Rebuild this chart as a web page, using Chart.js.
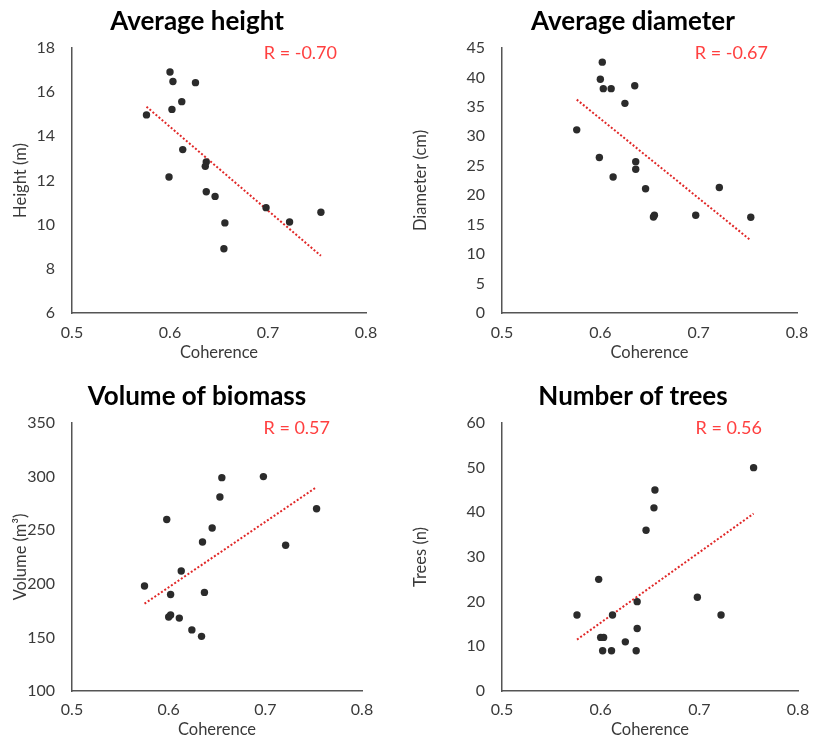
<!DOCTYPE html>
<html>
<head>
<meta charset="utf-8">
<script src="https://cdn.jsdelivr.net/npm/chart.js@4"></script>
<style>
  body { margin: 0; background: #fff; }
  #wrap { position: relative; width: 813px; height: 740px; overflow: hidden; }
  .panel { position: absolute; }
</style>
</head>
<body>
<div id="wrap">
  <div class="panel" style="left:0;top:0;width:400px;height:370px"><canvas id="c1"></canvas></div>
  <div class="panel" style="left:400px;top:0;width:413px;height:370px"><canvas id="c2"></canvas></div>
  <div class="panel" style="left:0;top:375px;width:400px;height:365px"><canvas id="c3"></canvas></div>
  <div class="panel" style="left:400px;top:375px;width:413px;height:365px"><canvas id="c4"></canvas></div>
</div>
<script>
// values
const heightX = [0.576, 0.600, 0.603, 0.626, 0.612, 0.602, 0.613, 0.637, 0.636, 0.599, 0.637, 0.646, 0.698, 0.722, 0.754, 0.656, 0.655];
const heightY = [14.97, 16.91, 16.48, 16.43, 15.57, 15.22, 13.40, 12.84, 12.64, 12.16, 11.49, 11.28, 10.77, 10.12, 10.56, 10.08, 8.91];

const diamX = [0.602, 0.600, 0.603, 0.611, 0.635, 0.625, 0.576, 0.599, 0.636, 0.636, 0.613, 0.646, 0.721, 0.655, 0.654, 0.697, 0.753];
const diamY = [42.6, 39.7, 38.1, 38.1, 38.6, 35.6, 31.1, 26.4, 25.7, 24.4, 23.1, 21.1, 21.3, 16.6, 16.3, 16.6, 16.25];

const volX = [0.655, 0.698, 0.653, 0.598, 0.753, 0.645, 0.635, 0.721, 0.613, 0.575, 0.637, 0.602, 0.600, 0.602, 0.611, 0.624, 0.634];
const volY = [299, 300, 281, 260, 270, 252, 239, 236, 212, 198, 192, 190, 169, 171, 168, 157, 151];

const treesX = [0.755, 0.655, 0.654, 0.646, 0.598, 0.637, 0.698, 0.576, 0.612, 0.722, 0.637, 0.600, 0.603, 0.625, 0.602, 0.611, 0.636];
const treesY = [50, 45, 41, 36, 25, 20, 21, 17, 17, 17, 14, 12, 12, 11, 9, 9, 9];

const titles = ['Average height', 'Average diameter', 'Volume of biomass', 'Number of trees'];
const yTitles = ['Height (m)', 'Diameter (cm)', 'Volume (m\u00b3)', 'Trees (n)'];
const rLabels = ['R = -0.70', 'R = -0.67', 'R = 0.57', 'R = 0.56'];
const xTicks = ['0.5', '0.6', '0.7', '0.8'];
const yRanges = [[6, 18, 2], [0, 45, 5], [100, 350, 50], [0, 60, 10]];

const txt = '#3a3a3a';

// least squares line across the data range
function trend(xs, ys) {
  const n = xs.length;
  const mx = xs.reduce((a, b) => a + b) / n;
  const my = ys.reduce((a, b) => a + b) / n;
  let sxy = 0, sxx = 0;
  for (let i = 0; i < n; i++) {
    sxy += (xs[i] - mx) * (ys[i] - my);
    sxx += (xs[i] - mx) * (xs[i] - mx);
  }
  const b = sxy / sxx, a = my - b * mx;
  const x0 = Math.min(...xs), x1 = Math.max(...xs);
  return [{x: x0, y: a + b * x0}, {x: x1, y: a + b * x1}];
}

// panel title + R label
const labels = {
  id: 'labels',
  afterDraw(chart, args, opts) {
    const ca = chart.chartArea, ctx = chart.ctx;
    ctx.save();
    ctx.textBaseline = 'middle';
    ctx.textAlign = 'center';
    ctx.font = 'bold 26px Lato';
    ctx.fillStyle = '#000';
    ctx.fillText(opts.title, opts.tx, 22);
    ctx.font = '18px Lato';
    ctx.fillStyle = '#ff4040';
    ctx.textAlign = 'right';
    ctx.fillText(opts.r, ca.right - opts.dx, ca.top + opts.dy);
    ctx.restore();
  }
};

function makeChart(id, i, xs, ys, pad) {
  const [ymin, ymax, ystep] = yRanges[i];
  const pts = xs.map((x, k) => ({x: x, y: ys[k]}));
  new Chart(document.getElementById(id), {
    type: 'scatter',
    data: {
      datasets: [{
        data: pts,
        backgroundColor: '#2b2b2b',
        borderWidth: 0,
        pointRadius: 3.7
      }, {
        type: 'line',
        data: trend(xs, ys),
        borderColor: '#e02828',
        borderWidth: 2,
        borderDash: [2, 2],
        pointRadius: 0,
        fill: false
      }]
    },
    options: {
      responsive: true,
      maintainAspectRatio: false,
      animation: false,
      layout: { padding: { left: 11, right: pad.right, top: 48, bottom: 0 } },
      plugins: {
        legend: { display: false },
        tooltip: { enabled: false },
        title: { display: false },
        labels: { title: titles[i], tx: pad.tx, r: rLabels[i], dx: pad.rdx, dy: 5 }
      },
      scales: {
        x: {
          type: 'linear',
          min: 0.5, max: 0.8,
          grid: { display: false },
          border: { display: true, color: '#555', width: 1.5 },
          ticks: {
            stepSize: 0.1,
            padding: pad.xtp,
            color: txt,
            font: { family: 'Lato', size: 16 },
            callback: (v) => xTicks[Math.round((v - 0.5) * 10)]
          },
          title: {
            display: true, text: 'Coherence', color: txt,
            font: { family: 'Lato', size: 16.5 },
            padding: { top: 0, bottom: pad.xtb }
          },
          afterFit: (s) => { s.height = pad.xh; }
        },
        y: {
          min: ymin, max: ymax,
          grid: { display: false },
          border: { display: true, color: '#555', width: 1.5 },
          ticks: {
            stepSize: ystep,
            padding: 9,
            color: txt,
            font: { family: 'Lato', size: 16 }
          },
          title: {
            display: true, text: yTitles[i], color: txt,
            font: { family: 'Lato', size: 16.5 },
            padding: { top: 0, bottom: 0 }
          },
          afterFit: (s) => { s.width = pad.yw; }
        }
      }
    },
    plugins: [labels]
  });
}

makeChart('c1', 0, heightX, heightY, { right: 34, yw: 61, xh: 57, xtp: 2, xtb: 7, rdx: 29, tx: 197 });
makeChart('c2', 1, diamX, diamY, { right: 16, yw: 91, xh: 57, xtp: 2, xtb: 7, rdx: 29, tx: 233 });
makeChart('c3', 2, volX, volY, { right: 38, yw: 61, xh: 49, xtp: 1, xtb: 0, rdx: 32, tx: 197 });
makeChart('c4', 3, treesX, treesY, { right: 15, yw: 91, xh: 49, xtp: 1, xtb: 0, rdx: 36, tx: 233 });
</script>
</body>
</html>
